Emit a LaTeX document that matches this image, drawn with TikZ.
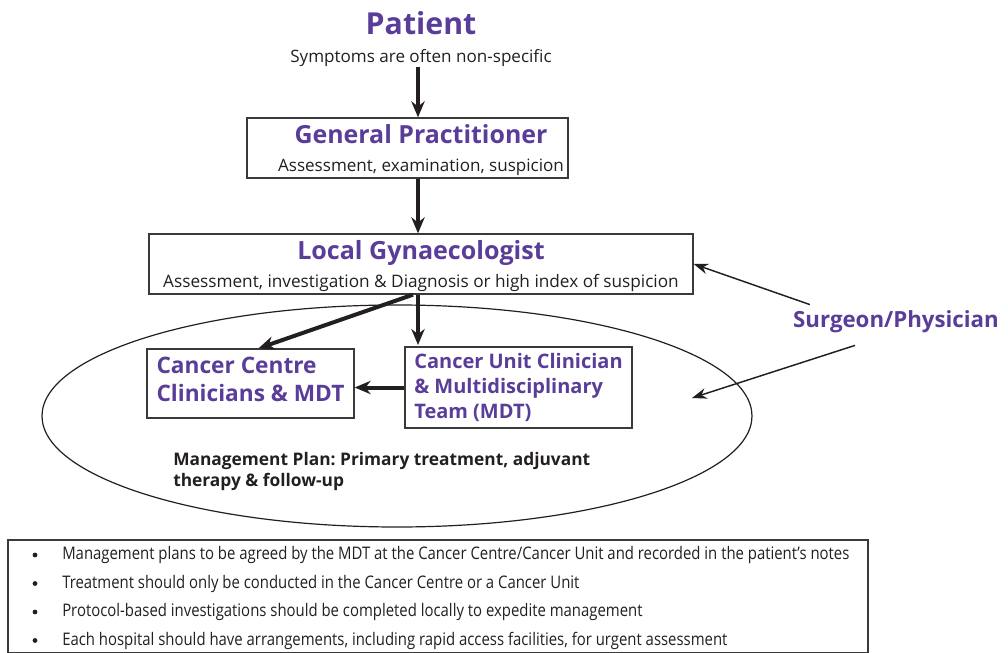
\documentclass[tikz,border=0pt]{standalone}
\usepackage{fontspec}
\setmainfont{Open Sans}
\newfontfamily\narrowfont[FakeStretch=0.86]{Open Sans}
\usetikzlibrary{arrows.meta,positioning,calc,shapes.geometric}
\definecolor{ink}{HTML}{231F20}
\definecolor{ink2}{HTML}{3A3A3A}
\definecolor{brand}{HTML}{5A3D99}
\frenchspacing
\tikzset{
  base/.style={inner sep=0pt, text=ink},
  box/.style={base, draw=ink2, line width=1pt, fill=white},
  unit/.style={base, draw=ink2, line width=1pt, fill=white, align=left, text=brand},
  head/.style={base, text=brand, font=\bfseries\fontsize{#1}{#1}\selectfont},
  sub/.style={base, font=\fontsize{#1}{#1}\selectfont},
  note/.style={base, font=\narrowfont\fontsize{13}{14}\selectfont},
  dot/.style={circle, fill=ink, inner sep=0pt, minimum size=3.6pt},
  arr/.style={-{Stealth[length=12pt,width=10pt]}, line width=3pt, draw=ink},
  thin/.style={-{Stealth[length=11pt,width=8pt]}, line width=1.1pt, draw=ink},
}
\begin{document}
\begin{tikzpicture}[x=0.75pt,y=-0.75pt]
  \useasboundingbox (0,0) rectangle (1008,653);
  \coordinate (spine) at (418,0);
  % top of the chain
  \node[head=22.7] (patient) at (421,23) {Patient};
  \node[sub=12.8] (symptoms) at (421,58) {Symptoms are often non-specific};
  \node[box, minimum width=240.75pt, minimum height=45pt] (gp) at (407.5,148) {};
  \node[head=18.7, anchor=base] (gptitle) at (421,143) {General Practitioner};
  \node[sub=12.8, anchor=base] (gpsub) at (421,171) {Assessment, examination, suspicion};
  \node[box, minimum width=408pt, minimum height=45pt] (lg) at (421,264) {};
  \node[head=18.8, anchor=base] (lgtitle) at (421,259) {Local Gynaecologist};
  \node[sub=12.9, anchor=base] (lgsub) at (421,287) {Assessment, investigation \& Diagnosis or high index of suspicion};
  % management zone
  \node[draw=ink, ellipse, line width=0.9pt, minimum width=532.5pt, minimum height=166.5pt] (zone) at (397,416) {};
  \node[unit, font=\bfseries\fontsize{17}{21}\selectfont, text depth=6pt, minimum width=155.25pt, minimum height=51.75pt] (cc) at (250.5,383.5)
    {Cancer Centre\\Clinicians \& MDT};
  \node[unit, font=\bfseries\fontsize{15}{18.4}\selectfont, minimum width=170.25pt, minimum height=60.75pt] (cu) at (518.5,387.5)
    {Cancer Unit Clinician\\\& Multidisciplinary\\Team (MDT)};
  \node[base, anchor=north west, align=left, font=\bfseries\fontsize{13}{15.5}\selectfont] (plan) at (173,452)
    {Management Plan: Primary treatment, adjuvant\\therapy \& follow-up};
  \node[head=16.7] (surgeon) at (896,322) {Surgeon/Physician};
  \coordinate (inner) at (692,398);
  % arrows
  \draw[arr] (symptoms.south -| spine) -- (gp.north -| spine);
  \draw[arr] (gp.south -| spine) -- (lg.north -| spine);
  \draw[arr] (lg.south -| spine) -- ([yshift=1pt]cu.north -| spine);
  \draw[arr] ($(lg.south -| spine)+(-5,0)$) -- ([xshift=6pt]cc.north);
  \draw[arr] (cu.west) -- (cu.west -| cc.east);
  \draw[thin] ($(surgeon.north west)+(17,-6)$) -- (lg.east);
  \draw[thin] ($(surgeon.south)+(-41,12)$) -- (inner);
  % notes
  \node[draw=ink2, line width=1pt, minimum width=645pt, minimum height=84.75pt] (notes) at (438,596.5) {};
  \foreach \t [count=\i] in {Management plans to be agreed by the MDT at the Cancer Centre/Cancer Unit and recorded in the patient’s notes,
      Treatment should only be conducted in the Cancer Centre or a Cancer Unit,
      Protocol-based investigations should be completed locally to expedite management,
      {Each hospital should have arrangements, including rapid access facilities, for urgent assessment}}
  {
    \node[dot] (dot\i) at (35,{555+28.5*(\i-1)}) {};
    \node[note, anchor=west] (note\i) at (62,{555+28.5*(\i-1)}) {\t};
  }
\end{tikzpicture}
\end{document}
